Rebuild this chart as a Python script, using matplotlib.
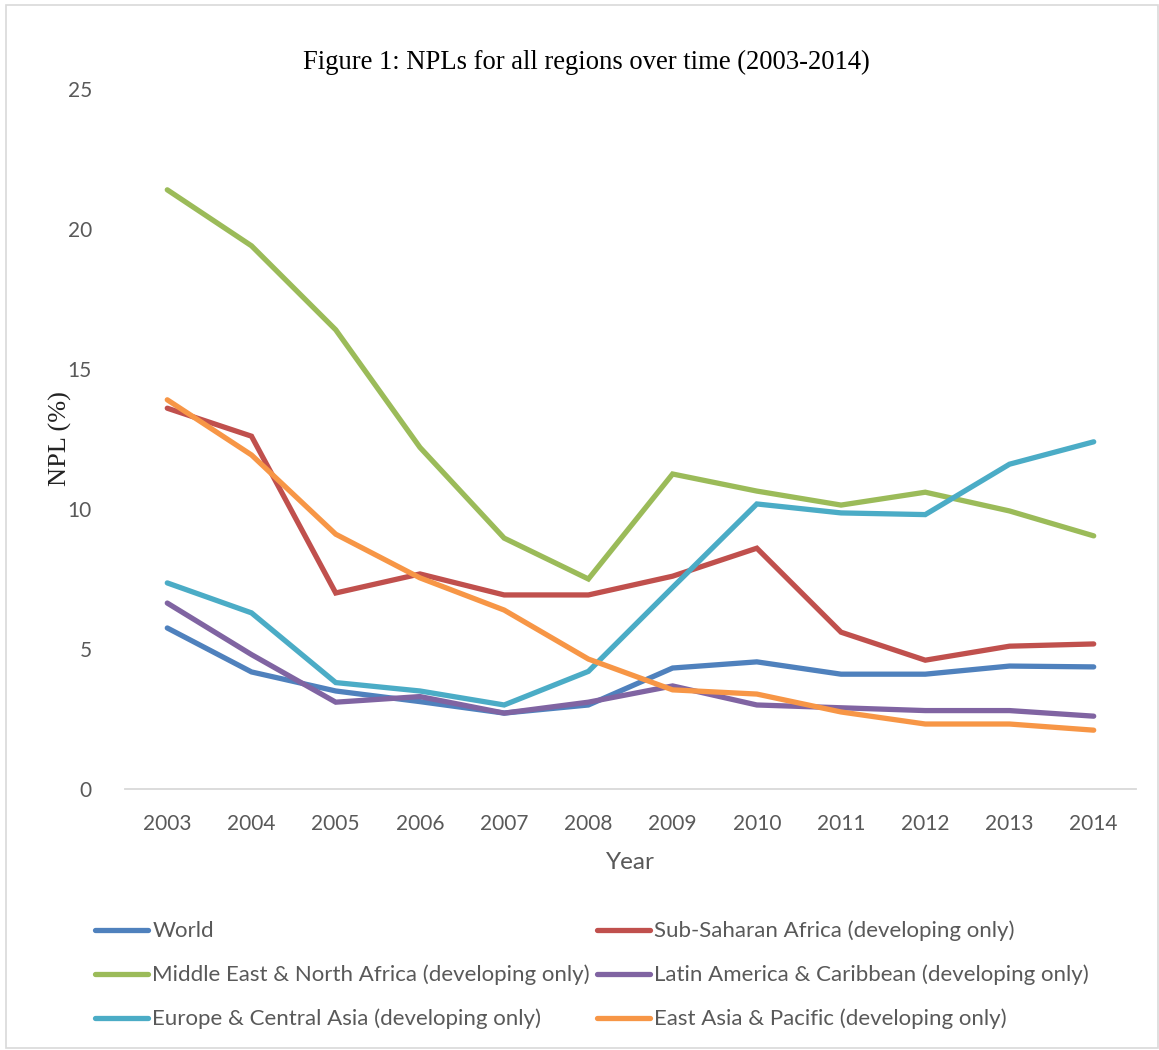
import matplotlib

matplotlib.use("Agg")
import matplotlib.pyplot as plt
from matplotlib.patches import Rectangle

years = [2003, 2004, 2005, 2006, 2007, 2008, 2009, 2010, 2011, 2012, 2013, 2014]

world = [5.75, 4.18, 3.5, 3.12, 2.71, 3.0, 4.32, 4.54, 4.1, 4.1, 4.39, 4.36]
ssa = [13.6, 12.6, 7.0, 7.68, 6.93, 6.93, 7.6, 8.6, 5.6, 4.6, 5.1, 5.18]
mena = [21.4, 19.4, 16.4, 12.2, 8.96, 7.5, 11.25, 10.64, 10.14, 10.6, 9.93, 9.04]
lac = [6.64, 4.8, 3.1, 3.3, 2.71, 3.1, 3.68, 3.0, 2.9, 2.8, 2.8, 2.6]
eca = [7.36, 6.29, 3.8, 3.5, 3.0, 4.2, 7.2, 10.18, 9.86, 9.8, 11.6, 12.4]
eap = [13.9, 11.93, 9.1, 7.54, 6.39, 4.64, 3.54, 3.39, 2.75, 2.32, 2.32, 2.1]

series = [
    ("World", world, "#4F81BD"),
    ("Sub-Saharan Africa (developing only)", ssa, "#C0504D"),
    ("Middle East & North Africa (developing only)", mena, "#9BBB59"),
    ("Latin America & Caribbean (developing only)", lac, "#8064A2"),
    ("Europe & Central Asia (developing only)", eca, "#4BACC6"),
    ("East Asia & Pacific (developing only)", eap, "#F79646"),
]

gray = "#595959"
sans = "Lato"
serif = "Liberation Serif"

fig = plt.figure(figsize=(11.59, 10.5), dpi=100)
ax = fig.add_axes([0.108, 0.2486, 0.872, 0.6666])

lines = {}
for name, vals, color in series:
    (ln,) = ax.plot(years, vals, color=color, linewidth=3.8, solid_capstyle="round",
                    solid_joinstyle="miter", label=name)
    lines[name] = ln

ax.set_xlim(2002.5, 2014.5)
ax.set_ylim(0, 25)
ax.set_xticks(years)
ax.set_xticklabels([str(y) for y in years])
ax.set_yticks([0, 5, 10, 15, 20, 25])
ax.tick_params(length=0, labelsize=15, labelcolor=gray)
ax.tick_params(axis="x", pad=18)
ax.tick_params(axis="y", pad=24)
for lbl in ax.get_xticklabels() + ax.get_yticklabels():
    lbl.set_fontfamily(sans)

for side in ["top", "right", "left"]:
    ax.spines[side].set_visible(False)
ax.spines["bottom"].set_color("#D9D9D9")
ax.spines["bottom"].set_linewidth(1.3)

ax.set_xlabel("Year", fontsize=17.5, color=gray, family=sans, labelpad=13)
ax.set_ylabel("NPL (%)", fontsize=19, color="#222222", family=serif)
ax.yaxis.set_label_coords(-0.053, 0.5)

fig.text(0.506, 0.941, "Figure 1: NPLs for all regions over time (2003-2014)",
         ha="center", va="center", fontsize=19.2, family=serif, color="black")

# legend, filled row by row
order = [series[0][0], series[2][0], series[4][0], series[1][0], series[3][0], series[5][0]]
leg = fig.legend([lines[n] for n in order], order, loc="upper left",
                 bbox_to_anchor=(0.0643, 0.142), ncol=2, frameon=False,
                 prop={"family": sans, "size": 16}, handlelength=2.4,
                 handletextpad=0.2, columnspacing=0.3, labelspacing=1.05)
for t in leg.get_texts():
    t.set_color(gray)

fig.add_artist(Rectangle((0.005, 0.002), 0.994, 0.993, transform=fig.transFigure,
                         fill=False, edgecolor="#D9D9D9", linewidth=1.2))

fig.savefig("out.png", dpi=100)
